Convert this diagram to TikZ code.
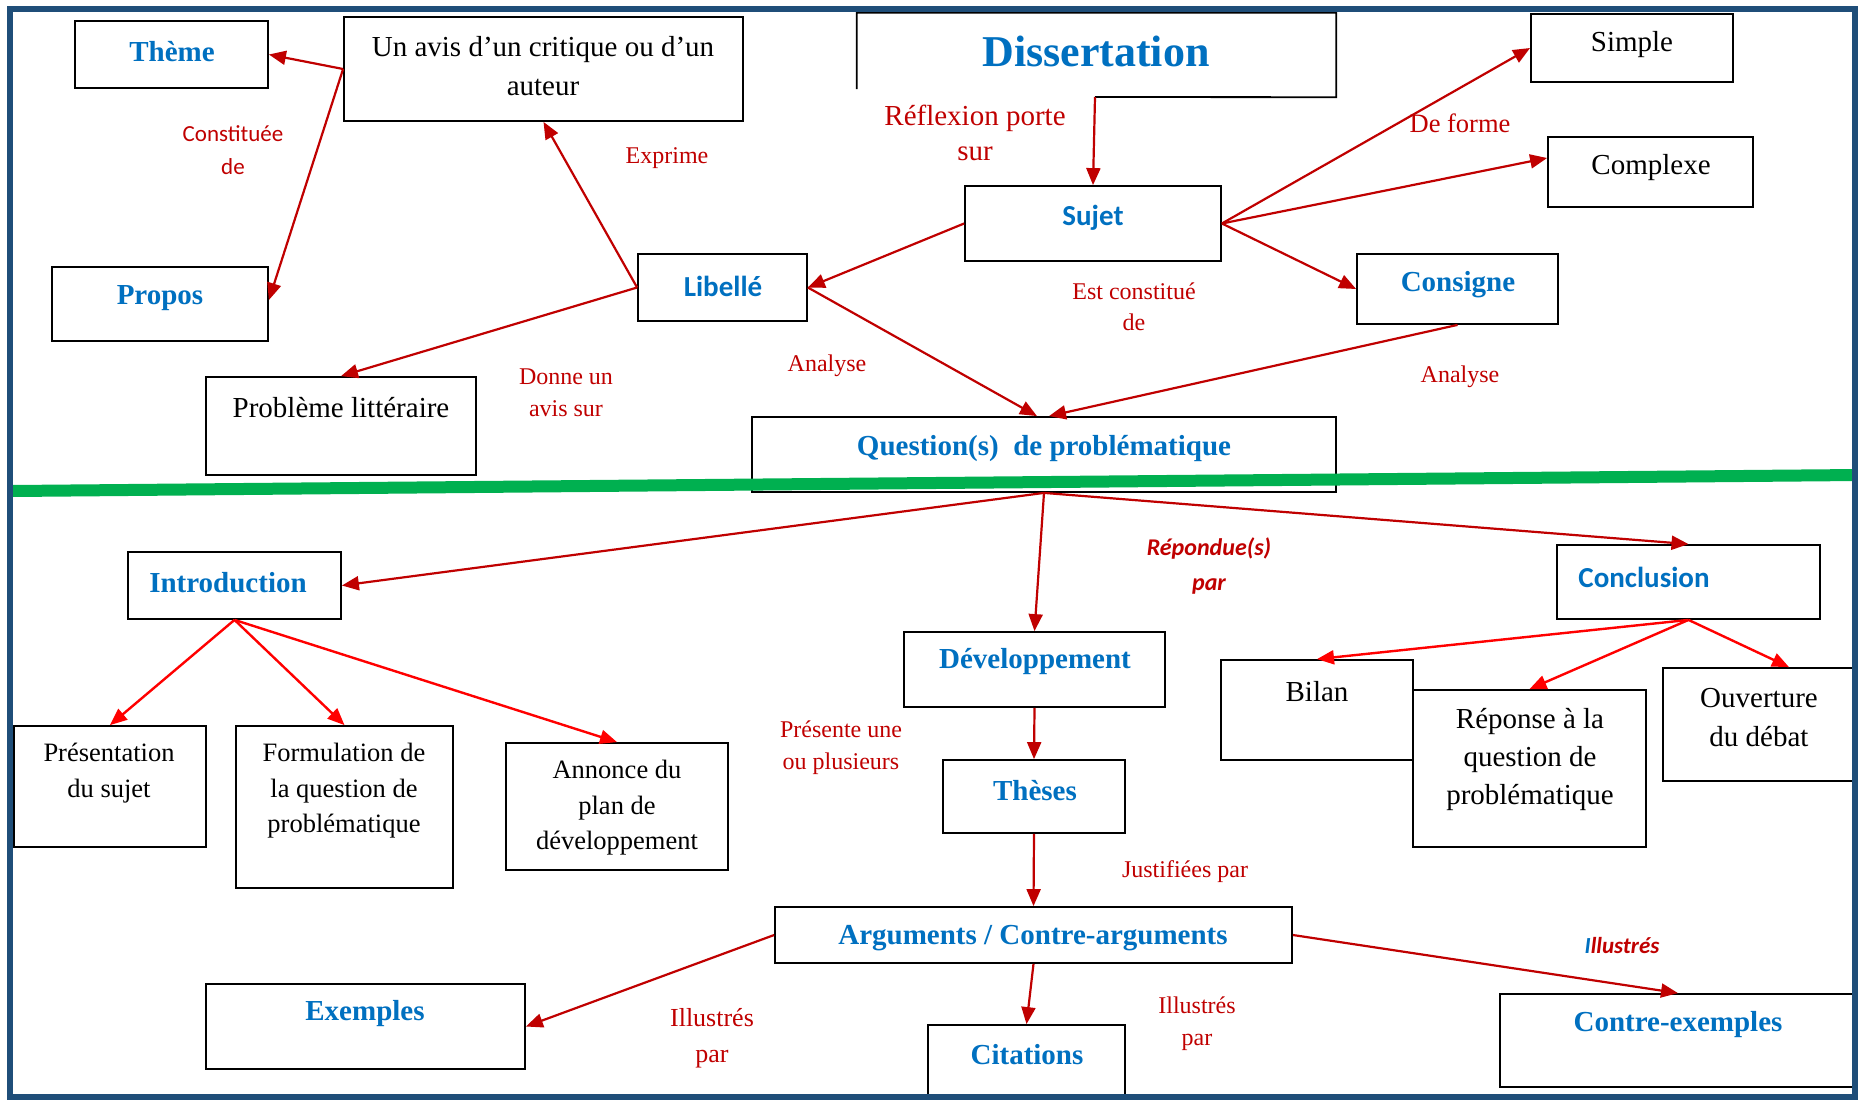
\documentclass[tikz,border=0pt]{standalone}
\usepackage{fontspec}
\setmainfont{Liberation Serif}
\newfontfamily\calibri{Carlito}
\usetikzlibrary{arrows.meta}

\definecolor{bleutitre}{HTML}{0070C0}
\definecolor{rougelien}{HTML}{C00000}
\definecolor{rougevif}{HTML}{FF0000}
\definecolor{vert}{HTML}{00B050}
\definecolor{cadre}{HTML}{1F4E79}

\begin{document}
\begin{tikzpicture}[x=1pt, y=-1pt,
    boite/.style={draw, line width=1.8pt, inner sep=0pt},
    titre/.style={text=bleutitre, yshift=-2pt, font=\fontsize{29}{36}\selectfont\bfseries},
    titrec/.style={text=bleutitre, yshift=-2pt, font=\calibri\fontsize{29}{36}\selectfont\bfseries},
    texte/.style={align=center, yshift=-2pt, font=\fontsize{29}{39}\selectfont},
    petit/.style={align=center, yshift=-2pt, font=\fontsize{26.5}{35.5}\selectfont},
    lien/.style={text=rougelien, align=center, font=\fontsize{24}{32}\selectfont},
    fleche/.style={->, draw=rougelien, line width=2.2pt},
    vif/.style={->, draw=rougevif, line width=2.4pt},
    >={Triangle[length=17pt,width=14pt]}]

  \useasboundingbox (0,0) rectangle (1858,1101);
  \fill[white] (0,0) rectangle (1858,1101);

  % boites du haut
  \node[boite, minimum width=193pt, minimum height=67pt] (theme) at (171.5,54.5) {};
  \node[boite, minimum width=399pt, minimum height=104pt] (avis) at (543.5,69) {};
  \node[minimum width=479pt, minimum height=84pt, inner sep=0pt] (diss) at (1096.5,55) {};
  \coordinate (dbas) at (1095,97);
  \draw[line width=1.8pt] ([yshift=8pt]diss.south west) -- (diss.north west) -- (diss.north east) -- (diss.south east) -- (dbas);
  \node[boite, minimum width=202pt, minimum height=68pt] (simple) at (1632,48) {};
  \node[boite, minimum width=205pt, minimum height=70pt] (complexe) at (1650.5,172) {};
  \node[boite, minimum width=256pt, minimum height=75pt] (sujet) at (1093,223.5) {};
  \node[boite, minimum width=169pt, minimum height=67pt] (libelle) at (722.5,287.5) {};
  \node[boite, minimum width=201pt, minimum height=70pt] (consigne) at (1457.5,289) {};
  \node[boite, minimum width=216pt, minimum height=74pt] (propos) at (160,304) {};
  \node[boite, minimum width=270pt, minimum height=98pt] (probleme) at (341,426) {};
  \node[boite, minimum width=584pt, minimum height=75pt] (question) at (1044,454.5) {};

  % boites du bas
  \node[boite, minimum width=213pt, minimum height=67pt] (intro) at (234.5,585.5) {};
  \node[boite, minimum width=261pt, minimum height=75pt] (devel) at (1034.5,669.5) {};
  \node[boite, minimum width=263pt, minimum height=74pt] (conclu) at (1688.5,582) {};
  \node[boite, minimum width=192pt, minimum height=121pt] (pres) at (110,786.5) {};
  \node[boite, minimum width=217pt, minimum height=162pt] (form) at (344.5,807) {};
  \node[boite, minimum width=222pt, minimum height=127pt] (annonce) at (617,806.5) {};
  \node[boite, minimum width=192pt, minimum height=100pt] (bilan) at (1317,710) {};
  \node[boite, minimum width=233pt, minimum height=157pt] (reponse) at (1529.5,768.5) {};
  \node[boite, minimum width=190pt, minimum height=113pt] (ouverture) at (1758,724.5) {};
  \node[boite, minimum width=182pt, minimum height=73pt] (theses) at (1034,796.5) {};
  \node[boite, minimum width=517pt, minimum height=56pt] (arguments) at (1033.5,935) {};
  \node[boite, minimum width=319pt, minimum height=85pt] (exemples) at (365.5,1026.5) {};
  \node[boite, minimum width=197pt, minimum height=74pt] (citations) at (1026.5,1062) {};
  \node[boite, minimum width=356pt, minimum height=93pt] (contre) at (1678,1040.5) {};

  % textes des boites
  \node[titre] (themeT) at (172,50) {Thème};
  \node[texte] (avisT) at (543,64) {Un avis d’un critique ou d’un\\auteur};
  \node[text=bleutitre, font=\fontsize{44}{50}\selectfont\bfseries] (dissT) at (1096,51) {Dissertation};
  \node[texte] (simpleT) at (1632,43) {Simple};
  \node[texte] (complexeT) at (1651,166) {Complexe};
  \node[titrec] (sujetT) at (1093,216) {Sujet};
  \node[titrec] (libelleT) at (723,284) {Libellé};
  \node[titre] (consigneT) at (1458,283) {Consigne};
  \node[titre] (proposT) at (160,296) {Propos};
  \node[texte] (problemeT) at (341,406) {Problème littéraire};
  \node[titre] (questionT) at (1044,447) {Question(s)\ \ de problématique};
  \node[titre] (introT) at (228,581) {Introduction};
  \node[titre] (develT) at (1035,660) {Développement};
  \node[titrec] (concluT) at (1644,575) {Conclusion};
  \node[petit] (presT) at (109,771) {Présentation\\du sujet};
  \node[petit] (formT) at (344,789) {Formulation de\\la question de\\problématique};
  \node[petit] (annonceT) at (617,806) {Annonce du\\plan de\\développement};
  \node[texte] (bilanT) at (1317,690) {Bilan};
  \node[texte, font=\fontsize{29}{38}\selectfont] (reponseT) at (1530,757) {Réponse à la\\question de\\problématique};
  \node[texte] (ouvertureT) at (1759,716) {Ouverture\\du débat};
  \node[titre] (thesesT) at (1035,789) {Thèses};
  \node[titre] (argumentsT) at (1033,936) {Arguments / Contre-arguments};
  \node[titre] (exemplesT) at (365,1012) {Exemples};
  \node[titre] (citationsT) at (1027,1053) {Citations};
  \node[titre] (contreT) at (1678,1023) {Contre-exemples};

  % etiquettes des liens
  \node[lien, font=\calibri\fontsize{23}{33}\selectfont] (lconst) at (233,150) {Constituée\\de};
  \node[lien] (lexprime) at (667,158) {Exprime};
  \node[lien, font=\fontsize{29}{35.5}\selectfont] (lreflexion) at (975,133) {Réflexion porte\\sur};
  \node[lien, font=\fontsize{26.5}{32}\selectfont] (lforme) at (1460,123) {De forme};
  \node[lien, font=\fontsize{24}{31}\selectfont] (lestconst) at (1134,307) {Est constitué\\de};
  \node[lien] (ldonne) at (566,393) {Donne un\\avis sur};
  \node[lien] (lanalyse) at (827,366) {Analyse};
  \node[lien] (lanalyse2) at (1460,377) {Analyse};
  \node[lien, font=\calibri\bfseries\itshape\fontsize{24}{35}\selectfont] (lrepondue) at (1209,566) {Répondue(s)\\par};
  \node[lien] (lpresente) at (841,748) {Présente une\\ou plusieurs};
  \node[lien] (ljustifiees) at (1185,872) {Justifiées par};
  \node[lien, font=\calibri\bfseries\itshape\fontsize{23}{30}\selectfont] (lillustres) at (1622,946) {{\color{bleutitre}I}llustrés};
  \node[lien, font=\fontsize{26}{36}\selectfont] (lillustres2) at (712,1038) {Illustrés\\par};
  \node[lien] (lillustres3) at (1197,1024) {Illustrés\\par};

  % ligne verte
  \draw[vert, line width=12pt] (12,491) -- (1858,475);

  % fleches du haut
  \draw[fleche] (avis.west) -- (theme.east);
  \draw[fleche] (avis.west) -- ([yshift=4pt]propos.east);
  \draw[fleche] (libelle.west) -- (avis.south);
  \draw[fleche] (libelle.west) -- (probleme.north);
  \draw[fleche] (dbas) -- (sujet.north);
  \draw[fleche] (sujet.west) -- (libelle.east);
  \draw[fleche] (sujet.east) -- (simple.west);
  \draw[fleche] (sujet.east) -- ([yshift=14pt]complexe.west);
  \draw[fleche] (sujet.east) -- (consigne.west);
  \draw[fleche] (libelle.east) -- ([xshift=-7pt]question.north);
  \draw[fleche] (consigne.south) -- ([xshift=5pt]question.north);

  % fleches du bas
  \draw[fleche] (question.south) -- (intro.east);
  \draw[fleche] (question.south) -- (devel.north);
  \draw[fleche] (question.south) -- (conclu.north);
  \draw[vif] (intro.south) -- (pres.north);
  \draw[vif] (intro.south) -- (form.north);
  \draw[vif] (intro.south) -- (annonce.north);
  \draw[vif] (conclu.south) -- (bilan.north);
  \draw[vif] (conclu.south) -- (reponse.north);
  \draw[vif] (conclu.south) -- ([xshift=31pt]ouverture.north);
  \draw[fleche] (devel.south) -- (theses.north);
  \draw[fleche] (theses.south) -- (arguments.north);
  \draw[fleche] (arguments.west) -- (exemples.east);
  \draw[fleche] (arguments.south) -- (citations.north);
  \draw[fleche] (arguments.east) -- (contre.north);

  % cadre
  \draw[cadre, line width=6pt] (10,9) rectangle (1855,1097);
\end{tikzpicture}
\end{document}
